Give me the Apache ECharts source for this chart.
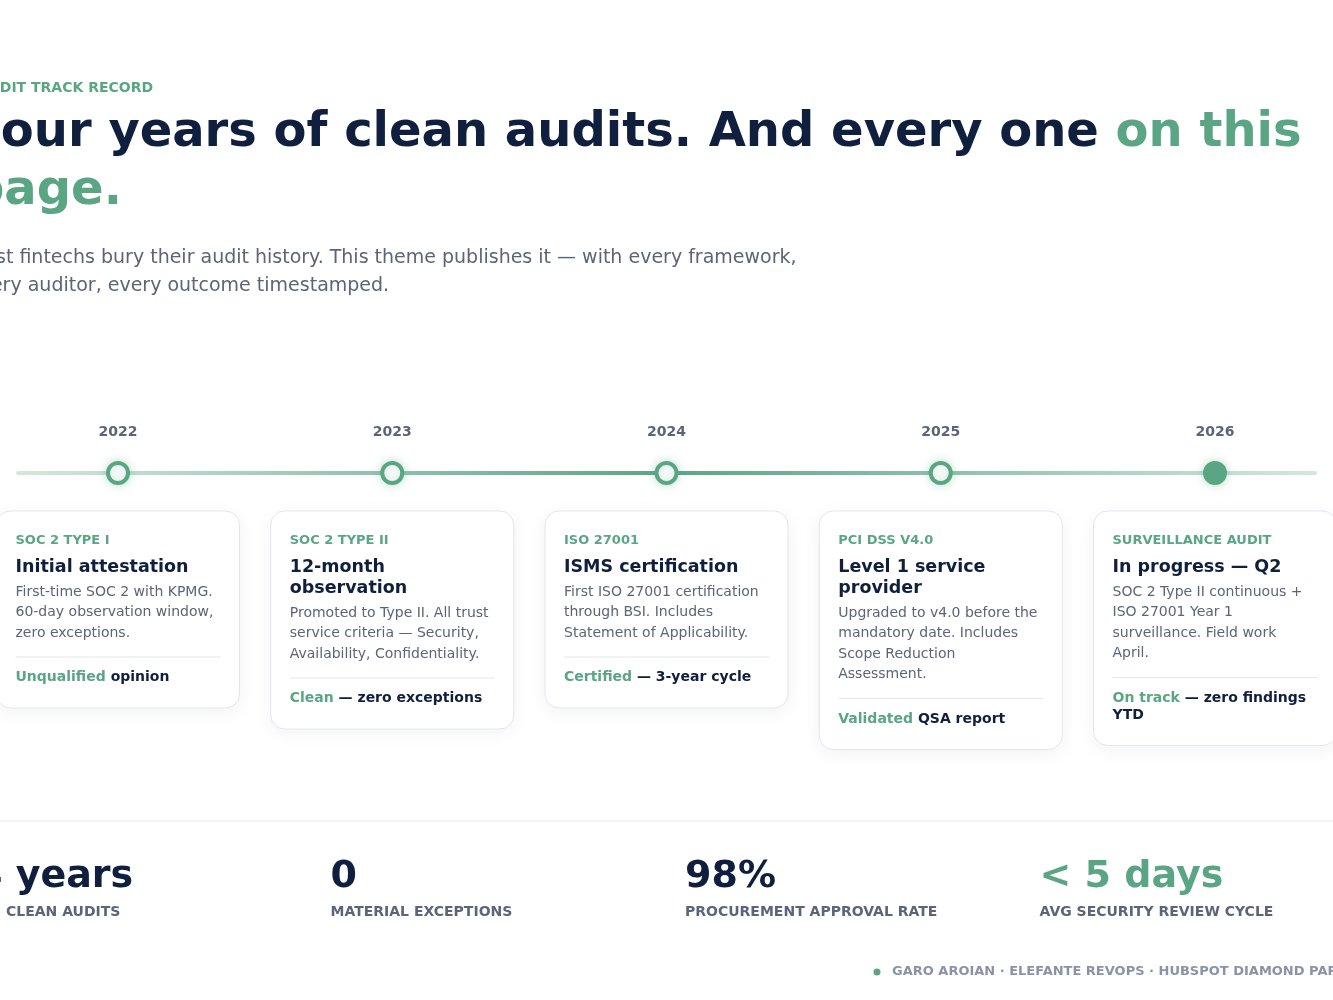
<!DOCTYPE html>
<html><head><meta charset="utf-8">
<script src="https://cdn.jsdelivr.net/npm/echarts@6/dist/echarts.min.js"></script>
<style>html,body{margin:0;padding:0;background:#fff}#c{width:1333px;height:1000px}</style>
</head><body><div id="c"></div>
<script>
const years = [2022, 2023, 2024, 2025, 2026];
const done = [true, true, true, true, false];
const frameworks = ['SOC 2 TYPE I', 'SOC 2 TYPE II', 'ISO 27001', 'PCI DSS V4.0', 'SURVEILLANCE AUDIT'];
const titles = [['Initial attestation'], ['12-month', 'observation'], ['ISMS certification'], ['Level 1 service', 'provider'], ['In progress — Q2']];
const bodies = [
  ['First-time SOC 2 with KPMG.', '60-day observation window,', 'zero exceptions.'],
  ['Promoted to Type II. All trust', 'service criteria — Security,', 'Availability, Confidentiality.'],
  ['First ISO 27001 certification', 'through BSI. Includes', 'Statement of Applicability.'],
  ['Upgraded to v4.0 before the', 'mandatory date. Includes', 'Scope Reduction', 'Assessment.'],
  ['SOC 2 Type II continuous +', 'ISO 27001 Year 1', 'surveillance. Field work', 'April.']
];
const outcomeGreen = ['Unqualified', 'Clean', 'Certified', 'Validated', 'On track'];
const outcomeRest = [' opinion', ' — zero exceptions', ' — 3-year cycle', ' QSA report', ' — zero findings\nYTD'];
const statValues = ['4 years', '0', '98%', '< 5 days'];
const statLabels = ['CLEAN AUDITS', 'MATERIAL EXCEPTIONS', 'PROCUREMENT APPROVAL RATE', 'AVG SECURITY REVIEW CYCLE'];

const NAVY = '#0f1f3d', GREEN = '#5aa584', GREY = '#5b6478', FONT = 'DejaVu Sans';
const chart = echarts.init(document.getElementById('c'));

const G = [];
G.push({type:'text', x:-22, y:88, style:{text:'AUDIT TRACK RECORD', font:'bold 14px '+FONT, fill:GREEN, verticalAlign:'middle'}});
G.push({type:'text', left:-30, top:110, style:{
  text:'{a|Four years of clean audits. And every one }{g|on this}\n{g|page.}',
  rich:{a:{font:'bold 48px '+FONT, fill:NAVY, lineHeight:58}, g:{font:'bold 48px '+FONT, fill:GREEN, lineHeight:58}}}});
G.push({type:'text', left:-32, top:244, style:{
  text:'Most fintechs bury their audit history. This theme publishes it — with every framework,\nevery auditor, every outcome timestamped.',
  font:'19px '+FONT, fill:GREY, lineHeight:28}});
G.push({type:'line', z:0, shape:{x1:18, y1:473, x2:1315, y2:473}, style:{lineWidth:4, lineCap:'round',
  stroke:new echarts.graphic.LinearGradient(0,0,1,0,[{offset:0,color:'#d3e8dd'},{offset:0.5,color:GREEN},{offset:1,color:'#d3e8dd'}])}});

years.forEach((y, i) => {
  const cx = 118 + i * 274.25, x = cx - 121.5, tx = x + 19, top = 511;
  const nt = titles[i].length, nb = bodies[i].length;
  const bodyStart = 591 + 21 * (nt - 1);
  const divY = bodyStart + 20.5 * (nb - 1) + 25;
  const footY = divY + 20;
  const footLines = outcomeRest[i].split('\n').length;
  const bottom = footY + 17 * (footLines - 1) + 31;
  G.push({type:'rect', z:1, shape:{x:x, y:top, width:243, height:bottom-top, r:14},
    style:{fill:'#fff', stroke:'#e3e6ee', lineWidth:1, shadowBlur:18, shadowColor:'rgba(15,31,61,0.06)', shadowOffsetY:4}});
  G.push({type:'text', z:2, x:tx, y:541, style:{text:frameworks[i], font:'bold 13px '+FONT, fill:GREEN, verticalAlign:'middle'}});
  G.push({type:'text', z:2, x:tx, y:557, style:{text:titles[i].join('\n'), font:'bold 17.5px '+FONT, fill:NAVY, lineHeight:21}});
  G.push({type:'text', z:2, x:tx, y:bodyStart-9, style:{text:bodies[i].join('\n'), font:'14px '+FONT, fill:GREY, lineHeight:20.5}});
  G.push({type:'line', z:2, shape:{x1:tx, y1:divY, x2:x+224, y2:divY}, style:{stroke:'#e3e6ee', lineWidth:1}});
  G.push({type:'text', z:2, x:tx, y:footY-8, style:{
    text:'{g|'+outcomeGreen[i]+'}{d|'+outcomeRest[i].split('\n').join('}\n{d|')+'}',
    rich:{g:{font:'bold 14px '+FONT, fill:GREEN, lineHeight:17}, d:{font:'bold 14px '+FONT, fill:NAVY, lineHeight:17}}}});
});

G.push({type:'line', shape:{x1:0, y1:821, x2:1333, y2:821}, style:{stroke:'#e6e8ee', lineWidth:1}});
statValues.forEach((v, i) => {
  const x = -26 + i * 354.5;
  G.push({type:'text', x: i===0 ? -24 : x+2, y:877, style:{text:v, font:'bold 38px '+FONT, fill: i===3?GREEN:NAVY, verticalAlign:'middle'}});
  G.push({type:'text', x: i===0 ? 6 : x+2, y:912, style:{text:statLabels[i], font:'bold 14px '+FONT, fill:GREY, verticalAlign:'middle'}});
});
G.push({type:'circle', shape:{cx:877, cy:972, r:3.5}, style:{fill:GREEN}});
G.push({type:'text', x:892, y:972, style:{text:'GARO AROIAN · ELEFANTE REVOPS · HUBSPOT DIAMOND PARTNER', font:'bold 13px '+FONT, fill:'#8a93a6', verticalAlign:'middle'}});

chart.setOption({
  animation:false,
  grid:{left:118, right:118, top:463, height:20},
  xAxis:{type:'value', min:2022, max:2026, show:false},
  yAxis:{type:'value', min:-1, max:1, show:false},
  graphic:G,
  series:[{
    type:'scatter', z:5, symbolSize:20,
    data: years.map((y, i) => ({value:[y, 0], itemStyle: {
      color: done[i] ? '#fff' : GREEN, borderColor:GREEN, borderWidth:4, opacity:1,
      shadowBlur:10, shadowColor:'rgba(90,165,132,0.35)'}})),
    emphasis:{disabled:true},
    label:{show:true, position:'top', distance:22, formatter:p => String(p.value[0]), fontFamily:FONT, fontWeight:'bold', fontSize:14, color:GREY}
  }]
});
</script></body></html>
